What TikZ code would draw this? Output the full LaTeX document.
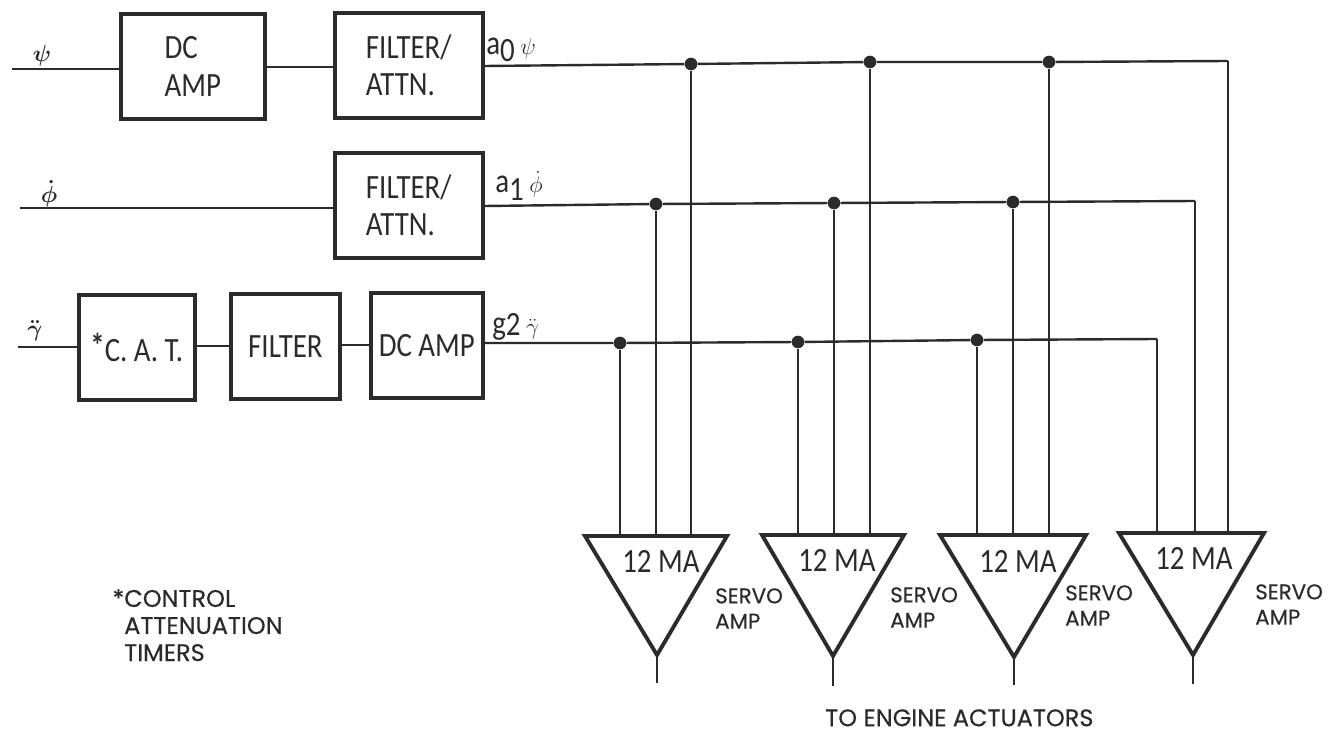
\documentclass[tikz,border=0pt]{standalone}
\usepackage{fontspec}
\usetikzlibrary{calc}
\newfontfamily\narrowfont[FakeStretch=0.85]{Carlito}
\newfontfamily\servofont[FakeBold=0.4]{Poppins}
\definecolor{ink}{HTML}{2B2B2B}
\tikzset{
  base/.style={text=ink, inner sep=0pt},
  block/.style={base, font=\narrowfont\fontsize{25.5}{28}\selectfont, draw=ink, line width=2.7pt, align=left, anchor=north west},
  wire/.style={draw=ink, line width=1.8pt},
  tap/.style={circle, fill=ink, inner sep=0pt, minimum size=9.5pt},
  amp/.style={draw=ink, line width=2.9pt, line join=miter},
  sig/.style={base, font=\boldmath\fontsize{17}{19}\selectfont},
  gain/.style={base, font=\narrowfont\fontsize{25.5}{28}\selectfont, anchor=west},
  note/.style={base, font=\servofont\fontsize{16}{19}\selectfont, align=left, anchor=north west},
  bignote/.style={note, font=\servofont\fontsize{18}{20.3}\selectfont},
}
\begin{document}
\begin{tikzpicture}[x=0.75pt,y=-0.75pt]
  \useasboundingbox (0,0) rectangle (1332,734);

  % blocks
  \node[block,minimum width=108pt,minimum height=79pt] (dc1) at (119,12) {DC\\AMP};
  \node[block,minimum width=111pt,minimum height=79pt] (filt1) at (333,11) {FILTER/\\ATTN.};
  \node[block,minimum width=111pt,minimum height=79pt] (filt2) at (333,151) {FILTER/\\ATTN.};
  \node[block,minimum width=87pt,minimum height=79pt] (cat) at (77,293) {\raisebox{.12em}{\textbf{*}}C. A. T.};
  \node[block,minimum width=82pt,minimum height=79pt] (filt3) at (229,292) {FILTER};
  \node[block,minimum width=84pt,minimum height=79pt] (dc3) at (369,291) {DC AMP};

  % inputs
  \coordinate (in1) at (12,69);
  \coordinate (in2) at (20,208);
  \coordinate (in3) at (18,347);
  \node[sig] (lpsi) at (42,56) {$\psi$};
  \node[sig] (lphi) at (49,194) {$\dot\phi$};
  \node[sig] (lgam) at (35,331) {$\ddot\gamma$};
  \draw[wire] (in1) -- (in1 -| dc1.west);
  \draw[wire] (dc1.east |- 0,67) -- (filt1.west |- 0,67);
  \draw[wire] (in2) -- (in2 -| filt2.west);
  \draw[wire] (in3) -- (in3 -| cat.west);
  \draw[wire] (cat.east |- 0,346) -- (filt3.west |- 0,346);
  \draw[wire] (filt3.east |- 0,345) -- (dc3.west |- 0,345);

  % outputs
  \node[gain] (g0) at (486,50) {a\raisebox{-.22em}{0}\,$\scriptstyle\psi$};
  \node[gain] (g1) at (495,186) {a\raisebox{-.22em}{1}\,$\scriptstyle\dot\phi$};
  \node[gain] (g2) at (492,327) {g\raisebox{-.05em}{2}\,$\scriptstyle\ddot\gamma$};

  \coordinate (e1) at (1228,61);
  \coordinate (e2) at (1195,201);
  \coordinate (e3) at (1157,339);
  \node[tap] (d11) at (691,64) {};
  \node[tap] (d12) at (870,62) {};
  \node[tap] (d13) at (1049,62) {};
  \node[tap] (d21) at (656,204) {};
  \node[tap] (d22) at (834,203) {};
  \node[tap] (d23) at (1013,202) {};
  \node[tap] (d31) at (620,343) {};
  \node[tap] (d32) at (798,342) {};
  \node[tap] (d33) at (977,340) {};
  \draw[wire] (filt1.east |- 0,66) -- (d11) -- (d12) -- (d13) -- (e1);
  \draw[wire] (filt2.east |- 0,206) -- (d21) -- (d22) -- (d23) -- (e2);
  \draw[wire] (dc3.east |- 0,343) -- (d31) -- (d32) -- (d33) -- (e3);

  % servo amps
  \coordinate (a1l) at (585,536); \coordinate (a1r) at (727,536); \coordinate (a1b) at (657,655);
  \coordinate (a2l) at (762,535); \coordinate (a2r) at (904,535); \coordinate (a2b) at (833,656);
  \coordinate (a3l) at (940,535); \coordinate (a3r) at (1086,535); \coordinate (a3b) at (1014,657);
  \coordinate (a4l) at (1119,533); \coordinate (a4r) at (1264,533); \coordinate (a4b) at (1193,655);
  \draw[amp] (a1l) -- (a1r) -- (a1b) -- cycle;
  \draw[amp] (a2l) -- (a2r) -- (a2b) -- cycle;
  \draw[amp] (a3l) -- (a3r) -- (a3b) -- cycle;
  \draw[amp] (a4l) -- (a4r) -- (a4b) -- cycle;

  \draw[wire] (d31) -- (d31 |- a1l);
  \draw[wire] (d21) -- (d21 |- a1l);
  \draw[wire] (d11) -- (d11 |- a1l);
  \draw[wire] (d32) -- (d32 |- a2l);
  \draw[wire] (d22) -- (d22 |- a2l);
  \draw[wire] (d12) -- (d12 |- a2l);
  \draw[wire] (d33) -- (d33 |- a3l);
  \draw[wire] (d23) -- (d23 |- a3l);
  \draw[wire] (d13) -- (d13 |- a3l);
  \draw[wire] (e3) -- (e3 |- a4l);
  \draw[wire] (e2) -- (e2 |- a4l);
  \draw[wire] (e1) -- (e1 |- a4l);

  \draw[wire] (a1b) -- ++(0,28);
  \draw[wire] (a2b) -- ++(0,30);
  \draw[wire] (a3b) -- ++(0,28);
  \draw[wire] (a4b) -- ++(0,29);

  \node[gain] (m1) at (622,561) {12 MA};
  \node[gain] (m2) at (798,560) {12 MA};
  \node[gain] (m3) at (979,561) {12 MA};
  \node[gain] (m4) at (1155,558) {12 MA};

  \node[note] (s1) at (715,588) {SERVO\\AMP};
  \node[note] (s2) at (890,587) {SERVO\\AMP};
  \node[note] (s3) at (1065,585) {SERVO\\AMP};
  \node[note] (s4) at (1255,584) {SERVO\\AMP};

  \node[bignote] (star) at (124,589) {\llap{*}CONTROL\\ATTENUATION\\TIMERS};
  \node[bignote] (act) at (825,709) {TO ENGINE ACTUATORS};
\end{tikzpicture}
\end{document}
